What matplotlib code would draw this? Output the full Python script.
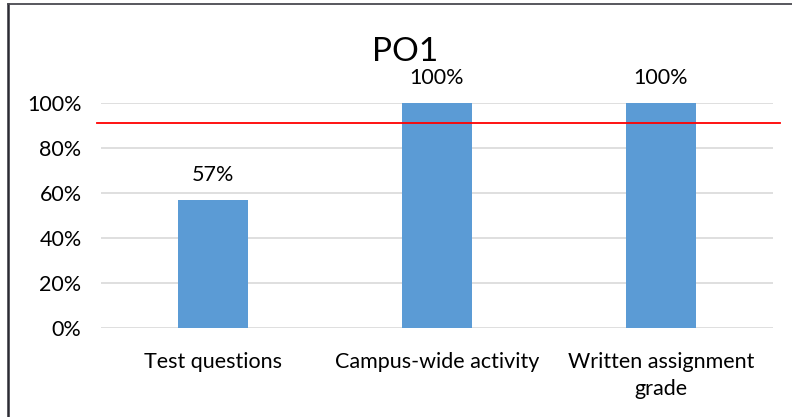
import matplotlib
matplotlib.use('Agg')
import matplotlib.pyplot as plt
from matplotlib.lines import Line2D

categories = ['Test questions', 'Campus-wide activity', 'Written assignment\ngrade']
values = [0.57, 1.00, 1.00]
value_labels = ['57%', '100%', '100%']
target = 0.91
yticks = [0, 0.2, 0.4, 0.6, 0.8, 1.0]
ytick_labels = ['0%', '20%', '40%', '60%', '80%', '100%']

plt.rcParams['font.family'] = ['Lato', 'DejaVu Sans']

fig = plt.figure(figsize=(7.92, 4.17), dpi=100)
ax = fig.add_axes([101 / 792, 89 / 417, 672 / 792, 225 / 417])

x = range(len(categories))
ax.bar(x, values, width=0.3125, color='#5B9BD5', zorder=2)
for i, v in enumerate(values):
    ax.text(i, v + 0.11, value_labels[i], ha='center', va='center',
            fontsize=15.5, color='#000000', clip_on=False)

# target line, a bit wider than the plot area
ax.axhline(target, xmin=-0.006, xmax=1.01, color='#FF0000', linewidth=1.3,
           zorder=3, clip_on=False)

ax.set_xlim(-0.5, 2.5)
ax.set_ylim(0, 1)
ax.set_yticks(yticks)
ax.set_yticklabels(ytick_labels)
ax.set_xticks(list(x))
ax.set_xticklabels(categories, linespacing=1.45)
ax.tick_params(axis='both', length=0, labelsize=15.5, colors='#000000')
ax.tick_params(axis='y', pad=14)
ax.tick_params(axis='x', pad=17)
ax.grid(axis='y', color='#D9D9D9', linewidth=1.2, zorder=0)
for s in ax.spines.values():
    s.set_visible(False)

fig.text(405 / 792, 1 - 52 / 417, 'PO1', ha='center', va='center', fontsize=24)

# outer border: top and left only
fig.add_artist(Line2D([8 / 792, 8 / 792], [0, 1 - 4 / 417], color='#2B2B33',
                      linewidth=1.8, transform=fig.transFigure))
fig.add_artist(Line2D([8 / 792, 1], [1 - 4 / 417, 1 - 4 / 417], color='#4A4A50',
                      linewidth=1.3, transform=fig.transFigure))

fig.savefig('out.png', dpi=100)
